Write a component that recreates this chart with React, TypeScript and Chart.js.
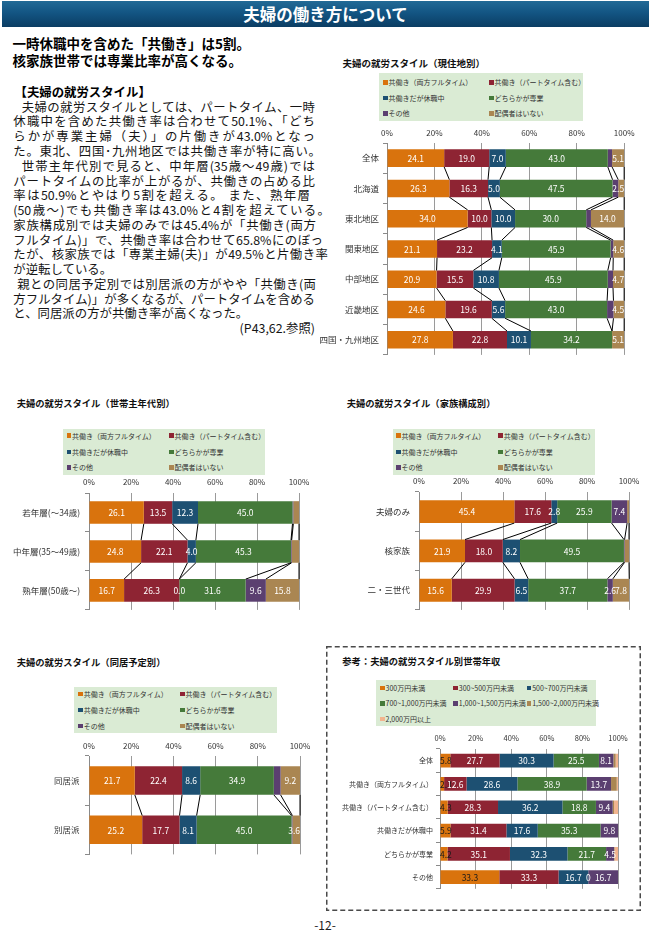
import React, { useEffect, useRef } from 'react';
import { Chart, registerables } from 'chart.js';

Chart.register(...registerables);

const FONT = "'Noto Sans CJK JP', 'Noto Sans', sans-serif";
Chart.defaults.font.family = FONT;

// ---------- shared series (work style) ----------
const workSeries = [
  '共働き（両方フルタイム）',
  '共働き（パートタイム含む）',
  '共働きだが休職中',
  'どちらかが専業',
  'その他',
  '配偶者はいない',
];
const workColors = ['#D9730D', '#8E2433', '#1D5072', '#457A3A', '#5B3F70', '#AA8652'];

// ---------- chart 1: 現住地別 ----------
const regionCategories = ['全体', '北海道', '東北地区', '関東地区', '中部地区', '近畿地区', '四国・九州地区'];
const regionFullTime = [24.1, 26.3, 34.0, 21.1, 20.9, 24.6, 27.8];
const regionPartTime = [19.0, 16.3, 10.0, 23.2, 15.5, 19.6, 22.8];
const regionLeave = [7.0, 5.0, 10.0, 4.1, 10.8, 5.6, 10.1];
const regionSingle = [43.0, 47.5, 30.0, 45.9, 45.9, 43.0, 34.2];
const regionOther = [1.8, 2.4, 2.0, 1.1, 2.2, 2.7, 0.0];
const regionNoSpouse = [5.1, 2.5, 14.0, 4.6, 4.7, 4.5, 5.1];
const regionHidden: [number, number][] = [[4, 0], [4, 1], [4, 2], [4, 3], [4, 4], [4, 5], [4, 6]];

// ---------- chart 2: 世帯主年代別 ----------
const ageCategories = ['若年層(～34歳)', '中年層(35～49歳)', '熟年層(50歳～)'];
const ageFullTime = [26.1, 24.8, 16.7];
const agePartTime = [13.5, 22.1, 26.3];
const ageLeave = [12.3, 4.0, 0.0];
const ageSingle = [45.0, 45.3, 31.6];
const ageOther = [0.4, 0.3, 9.6];
const ageNoSpouse = [2.7, 3.5, 15.8];
const ageHidden: [number, number][] = [[4, 0], [4, 1], [5, 0], [5, 1]];

// ---------- chart 3: 家族構成別 ----------
const familyCategories = ['夫婦のみ', '核家族', '二・三世代'];
const familyFullTime = [45.4, 21.9, 15.6];
const familyPartTime = [17.6, 18.0, 29.9];
const familyLeave = [2.8, 8.2, 6.5];
const familySingle = [25.9, 49.5, 37.7];
const familyOther = [7.4, 0.3, 2.6];
const familyNoSpouse = [0.9, 2.1, 7.8];
const familyHidden: [number, number][] = [[4, 1], [5, 0], [5, 1]];

// ---------- chart 4: 同居予定別 ----------
const cohabCategories = ['同居派', '別居派'];
const cohabFullTime = [21.7, 25.2];
const cohabPartTime = [22.4, 17.7];
const cohabLeave = [8.6, 8.1];
const cohabSingle = [34.9, 45.0];
const cohabOther = [3.2, 0.4];
const cohabNoSpouse = [9.2, 3.6];
const cohabHidden: [number, number][] = [[4, 0], [4, 1]];

// ---------- chart 5: 世帯年収 ----------
const incomeCategories = [
  '全体',
  '共働き（両方フルタイム）',
  '共働き（パートタイム含む）',
  '共働きだが休職中',
  'どちらかが専業',
  'その他',
];
const incomeSeries = [
  '300万円未満',
  '300~500万円未満',
  '500~700万円未満',
  '700~1,000万円未満',
  '1,000~1,500万円未満',
  '1,500~2,000万円未満',
  '2,000万円以上',
];
const incomeColors = ['#D9730D', '#8E2433', '#1D5072', '#457A3A', '#5B3F70', '#AA8652', '#F2B48E'];
const incomeUnder300 = [5.8, 2.3, 4.3, 5.9, 4.2, 33.3];
const income300to500 = [27.7, 12.6, 28.3, 31.4, 35.1, 33.3];
const income500to700 = [30.3, 28.6, 36.2, 17.6, 32.3, 16.7];
const income700to1000 = [25.5, 38.9, 18.8, 35.3, 21.7, 0];
const income1000to1500 = [8.1, 13.7, 9.4, 9.8, 4.5, 16.7];
const income1500to2000 = [1.3, 3.2, 0.8, 0, 0.3, 0];
const incomeOver2000 = [1.3, 0.7, 2.2, 0, 1.9, 0];
const incomeHidden: [number, number][] = [
  [5, 0], [5, 1], [5, 2], [5, 3], [5, 4], [5, 5],
  [6, 0], [6, 1], [6, 2], [6, 3], [6, 4], [6, 5],
];

const xTickValues = [0, 20, 40, 60, 80, 100];

// ---------- text ----------
const headingLines = ['一時休職中を含めた「共働き」は5割。', '核家族世帯では専業比率が高くなる。'];
const subHeading = '【夫婦の就労スタイル】';
const bodyLines = [
  '夫婦の就労スタイルとしては、パートタイム、一時',
  '休職中を含めた共働き率は合わせて50.1%、「どち',
  'らかが専業主婦（夫）」の片働きが43.0%となっ',
  'た。東北、四国･九州地区では共働き率が特に高い。',
  '世帯主年代別で見ると、中年層(35歳～49歳)では',
  'パートタイムの比率が上がるが、共働きの占める比',
  '率は50.9%とやはり5割を超える。 また、熟年層',
  '(50歳～)でも共働き率は43.0%と4割を超えている。',
  '家族構成別では夫婦のみでは45.4%が「共働き(両方',
  'フルタイム)」で、共働き率は合わせて65.8%にのぼっ',
  'たが、核家族では「専業主婦(夫)」が49.5%と片働き率',
  'が逆転している。',
  '親との同居予定別では別居派の方がやや「共働き(両',
  '方フルタイム)」が多くなるが、パートタイムを含める',
  'と、同居派の方が共働き率が高くなった。',
];
const referenceNote = '(P43,62.参照)';
// layout of body lines: left edge, right edge (null = no justification)
const bodyLayout: [number, number | null][] = [
  [21.7, 315], [13.3, 315], [13.3, 315], [13.3, 321], [21.7, 315], [13.3, 315], [13.3, 310],
  [13.3, 330], [13.3, 316], [13.3, 323], [13.3, 328], [13.3, null], [17.3, 316], [13.3, 315],
  [13.3, null],
];

type SBProps = {
  categories: string[];
  series: string[];
  values: number[][];
  colors: string[];
  left: number;
  top: number;
  width: number;
  height: number;
  yAxisWidth: number;
  xAxisHeight: number;
  padRight: number;
  padBottom: number;
  xTickPad: number;
  yTickPad: number;
  yFontSize: number;
  xFontSize: number;
  labelFontSize: number;
  hidden: [number, number][];
  seriesLines: boolean;
  darkLabelSeries: number[];
  format: (v: number) => string;
  barPct: number;
};

function StackedBar(p: SBProps) {
  const ref = useRef<HTMLCanvasElement>(null);
  useEffect(() => {
    const canvas = ref.current;
    if (!canvas) return;
    const hiddenSet = new Set(p.hidden.map(([s, r]) => `${s}-${r}`));
    const linesPlugin = {
      id: 'seriesLines',
      afterDatasetsDraw(chart: any) {
        if (!p.seriesLines) return;
        const { ctx } = chart;
        ctx.save();
        ctx.strokeStyle = '#000000';
        ctx.lineWidth = 1;
        chart.data.datasets.forEach((_ds: any, di: number) => {
          const els = chart.getDatasetMeta(di).data;
          for (let i = 0; i < els.length - 1; i++) {
            const a = els[i].getProps(['x', 'y', 'height'], true);
            const b = els[i + 1].getProps(['x', 'y', 'height'], true);
            ctx.beginPath();
            ctx.moveTo(a.x, a.y + a.height / 2);
            ctx.lineTo(b.x, b.y - b.height / 2);
            ctx.stroke();
          }
        });
        ctx.restore();
      },
    };
    const labelPlugin = {
      id: 'segLabels',
      afterDatasetsDraw(chart: any) {
        const { ctx, chartArea } = chart;
        ctx.save();
        ctx.font = `${p.labelFontSize}px ${FONT}`;
        ctx.textAlign = 'center';
        ctx.textBaseline = 'middle';
        chart.data.datasets.forEach((ds: any, di: number) => {
          const meta = chart.getDatasetMeta(di);
          meta.data.forEach((el: any, i: number) => {
            if (hiddenSet.has(`${di}-${i}`)) return;
            const v = ds.data[i];
            const txt = p.format(v);
            const { x, y, base } = el.getProps(['x', 'y', 'base'], true);
            const w = ctx.measureText(txt).width;
            let cx = (x + base) / 2;
            cx = Math.max(chartArea.left + w / 2, Math.min(chartArea.right - w / 2, cx));
            ctx.fillStyle = p.darkLabelSeries.includes(di) ? '#1a1a1a' : '#ffffff';
            ctx.fillText(txt, cx, y + 0.5);
          });
        });
        ctx.restore();
      },
    };
    const chart = new Chart(canvas, {
      type: 'bar',
      data: {
        labels: p.categories,
        datasets: p.series.map((name, i) => ({
          label: name,
          data: p.values[i],
          backgroundColor: p.colors[i],
          borderWidth: 0,
          barPercentage: p.barPct,
          categoryPercentage: 1,
        })),
      },
      options: {
        indexAxis: 'y',
        responsive: false,
        maintainAspectRatio: false,
        animation: false,
        devicePixelRatio: 1,
        layout: { padding: { left: 0, top: 0, right: p.padRight, bottom: p.padBottom } },
        plugins: { legend: { display: false }, tooltip: { enabled: false }, title: { display: false } },
        scales: {
          x: {
            stacked: true,
            position: 'top',
            min: 0,
            max: 100,
            afterBuildTicks: (scale: any) => {
              scale.ticks = xTickValues.map((v) => ({ value: v }));
            },
            ticks: {
              callback: (v: any) => `${v}%`,
              padding: p.xTickPad,
              font: { size: p.xFontSize, family: FONT },
              color: '#333333',
              maxRotation: 0,
              autoSkip: false,
            },
            grid: { color: '#9a9a9a', drawTicks: false, lineWidth: 1 },
            border: { display: false },
            afterFit: (scale: any) => {
              scale.height = p.xAxisHeight;
            },
          },
          y: {
            stacked: true,
            ticks: {
              padding: p.yTickPad,
              font: { size: p.yFontSize, family: FONT },
              color: '#333333',
              autoSkip: false,
            },
            grid: { drawOnChartArea: false, drawTicks: true, tickLength: 4, color: '#8a8a8a' },
            border: { display: true, color: '#8a8a8a', width: 1 },
            afterFit: (scale: any) => {
              scale.width = p.yAxisWidth;
            },
          },
        },
      } as any,
      plugins: [linesPlugin, labelPlugin],
    });
    return () => chart.destroy();
  }, []);
  return (
    <canvas
      ref={ref}
      width={p.width}
      height={p.height}
      style={{ position: 'absolute', left: p.left, top: p.top, width: p.width, height: p.height, display: 'block' }}
    />
  );
}

type LegendProps = {
  names: string[];
  colors: string[];
  left: number;
  top: number;
  width: number;
  height: number;
  cols: number[];
  rows: number[];
  fontSize: number;
};

function Legend(p: LegendProps) {
  const n = p.cols.length;
  return (
    <>
      <div
        style={{
          position: 'absolute',
          left: p.left,
          top: p.top,
          width: p.width,
          height: p.height,
          background: '#DAEBD4',
        }}
      />
      {p.names.map((name, k) => {
        const cx = p.cols[k % n];
        const cy = p.rows[Math.floor(k / n)];
        return (
          <React.Fragment key={k}>
            <div
              style={{
                position: 'absolute',
                left: cx,
                top: cy - 2.2,
                width: 4.5,
                height: 4.5,
                background: p.colors[k],
              }}
            />
            <div
              style={{
                position: 'absolute',
                left: cx + 5.5,
                top: cy - 6,
                height: 12,
                lineHeight: '12px',
                fontSize: p.fontSize,
                color: '#333',
                whiteSpace: 'nowrap',
              }}
            >
              {name}
            </div>
          </React.Fragment>
        );
      })}
    </>
  );
}

function Title({ text, left, cy, size }: { text: string; left: number; cy: number; size: number }) {
  return (
    <div
      style={{
        position: 'absolute',
        left,
        top: cy - 8,
        height: 16,
        lineHeight: '16px',
        fontSize: size,
        fontWeight: 'bold',
        color: '#111',
        whiteSpace: 'nowrap',
      }}
    >
      {text}
    </div>
  );
}

const fmt1 = (v: number) => v.toFixed(1);
const fmtGeneral = (v: number) => String(v);

export default function App() {
  const bodySize = 12.4;
  const bodyLH = 14.77;
  return (
    <div
      style={{
        position: 'absolute',
        left: 0,
        top: 0,
        width: 651,
        height: 937,
        background: '#ffffff',
        fontFamily: FONT,
        overflow: 'hidden',
      }}
    >
      {/* banner */}
      <div
        style={{
          position: 'absolute',
          left: 2,
          top: 1,
          width: 647,
          height: 26,
          background: 'linear-gradient(to bottom, #226a96 0%, #135583 45%, #0b3d63 100%)',
          color: '#ffffff',
          fontWeight: 'bold',
          fontSize: 16.5,
          lineHeight: '26px',
          textAlign: 'center',
        }}
      >
        夫婦の働き方について
      </div>

      {/* headings */}
      {headingLines.map((t, i) => (
        <div
          key={i}
          style={{
            position: 'absolute',
            left: 12.5,
            top: 43.5 + i * 16.7 - 9.5,
            height: 19,
            lineHeight: '19px',
            fontSize: 13.5,
            fontWeight: 'bold',
            color: '#000',
            whiteSpace: 'nowrap',
          }}
        >
          {t}
        </div>
      ))}
      <div
        style={{
          position: 'absolute',
          left: 14.5,
          top: 92.3 - 9,
          height: 18,
          lineHeight: '18px',
          fontSize: 12.4,
          fontWeight: 'bold',
          color: '#000',
          whiteSpace: 'nowrap',
        }}
      >
        {subHeading}
      </div>
      {bodyLines.map((t, i) => {
        const [l, r] = bodyLayout[i];
        const cy = 106.7 + i * bodyLH;
        return (
          <div
            key={i}
            style={{
              position: 'absolute',
              left: l,
              top: cy - 9,
              width: r === null ? undefined : r - l,
              height: 18,
              lineHeight: '18px',
              fontSize: bodySize,
              color: '#151515',
              whiteSpace: 'nowrap',
              textAlign: r === null ? 'left' : 'justify',
              textAlignLast: r === null ? 'left' : 'justify',
            } as any}
          >
            {t}
          </div>
        );
      })}
      <div
        style={{
          position: 'absolute',
          left: 200,
          width: 115,
          top: 106.7 + 15 * bodyLH - 9,
          height: 18,
          lineHeight: '18px',
          fontSize: bodySize,
          color: '#151515',
          textAlign: 'right',
          whiteSpace: 'nowrap',
        }}
      >
        {referenceNote}
      </div>

      {/* chart 1 */}
      <Title text="夫婦の就労スタイル（現住地別）" left={342.5} cy={62.7} size={9.5} />
      <Legend
        names={workSeries}
        colors={workColors}
        left={379}
        top={72.7}
        width={204}
        height={48}
        cols={[383, 489]}
        rows={[82.3, 97.7, 113.3]}
        fontSize={7}
      />
      <StackedBar
        categories={regionCategories}
        series={workSeries}
        values={[regionFullTime, regionPartTime, regionLeave, regionSingle, regionOther, regionNoSpouse]}
        colors={workColors}
        left={300}
        top={122}
        width={340}
        height={242}
        yAxisWidth={87}
        xAxisHeight={21}
        padRight={13}
        padBottom={4}
        xTickPad={5.5}
        yTickPad={4}
        yFontSize={8.5}
        xFontSize={8}
        labelFontSize={8.5}
        hidden={regionHidden}
        seriesLines={true}
        darkLabelSeries={[]}
        format={fmt1}
        barPct={0.58}
      />

      {/* chart 2 */}
      <Title text="夫婦の就労スタイル（世帯主年代別）" left={16.7} cy={403.3} size={9.3} />
      <Legend
        names={workSeries}
        colors={workColors}
        left={63}
        top={429}
        width={202}
        height={46}
        cols={[66.5, 169]}
        rows={[435.5, 451.7, 467.3]}
        fontSize={7}
      />
      <StackedBar
        categories={ageCategories}
        series={workSeries}
        values={[ageFullTime, agePartTime, ageLeave, ageSingle, ageOther, ageNoSpouse]}
        colors={workColors}
        left={0}
        top={470}
        width={320}
        height={150}
        yAxisWidth={89}
        xAxisHeight={23}
        padRight={21}
        padBottom={7}
        xTickPad={6.5}
        yTickPad={5}
        yFontSize={8.5}
        xFontSize={8}
        labelFontSize={8.5}
        hidden={ageHidden}
        seriesLines={true}
        darkLabelSeries={[]}
        format={fmt1}
        barPct={0.58}
      />

      {/* chart 3 */}
      <Title text="夫婦の就労スタイル（家族構成別）" left={346.7} cy={403} size={9.3} />
      <Legend
        names={workSeries}
        colors={workColors}
        left={392.7}
        top={429}
        width={202}
        height={46}
        cols={[396, 498.3]}
        rows={[435.5, 451.7, 467.3]}
        fontSize={7}
      />
      <StackedBar
        categories={familyCategories}
        series={workSeries}
        values={[familyFullTime, familyPartTime, familyLeave, familySingle, familyOther, familyNoSpouse]}
        colors={workColors}
        left={330}
        top={470}
        width={321}
        height={150}
        yAxisWidth={89}
        xAxisHeight={22}
        padRight={22}
        padBottom={8}
        xTickPad={6.5}
        yTickPad={5}
        yFontSize={8.5}
        xFontSize={8}
        labelFontSize={8.5}
        hidden={familyHidden}
        seriesLines={true}
        darkLabelSeries={[]}
        format={fmt1}
        barPct={0.58}
      />

      {/* chart 4 */}
      <Title text="夫婦の就労スタイル（同居予定別）" left={16.7} cy={661.7} size={9.3} />
      <Legend
        names={workSeries}
        colors={workColors}
        left={74}
        top={687.3}
        width={203}
        height={45.4}
        cols={[78.3, 180]}
        rows={[694, 710, 726]}
        fontSize={7}
      />
      <StackedBar
        categories={cohabCategories}
        series={workSeries}
        values={[cohabFullTime, cohabPartTime, cohabLeave, cohabSingle, cohabOther, cohabNoSpouse]}
        colors={workColors}
        left={0}
        top={735}
        width={320}
        height={130}
        yAxisWidth={89}
        xAxisHeight={21}
        padRight={20}
        padBottom={8}
        xTickPad={5.5}
        yTickPad={5.5}
        yFontSize={8.5}
        xFontSize={8}
        labelFontSize={8.5}
        hidden={cohabHidden}
        seriesLines={true}
        darkLabelSeries={[]}
        format={fmt1}
        barPct={0.58}
      />

      {/* chart 5 (dashed box) */}
      <svg
        width={316}
        height={266}
        style={{ position: 'absolute', left: 326, top: 646 }}
      >
        <rect
          x={0.75}
          y={0.75}
          width={313.5}
          height={263.5}
          fill="none"
          stroke="#4a4a4a"
          strokeWidth={1.5}
          strokeDasharray="5 3"
        />
      </svg>
      <Title text="参考：夫婦の就労スタイル別世帯年収" left={342.3} cy={661} size={9.3} />
      <Legend
        names={incomeSeries}
        colors={incomeColors}
        left={375.7}
        top={680}
        width={220}
        height={45.7}
        cols={[380, 453.3, 526.7]}
        rows={[687.7, 703.3, 719]}
        fontSize={7}
      />
      <StackedBar
        categories={incomeCategories}
        series={incomeSeries}
        values={[
          incomeUnder300,
          income300to500,
          income500to700,
          income700to1000,
          income1000to1500,
          income1500to2000,
          incomeOver2000,
        ]}
        colors={incomeColors}
        left={327}
        top={728}
        width={313}
        height={168}
        yAxisWidth={113}
        xAxisHeight={21}
        padRight={22}
        padBottom={5}
        xTickPad={6}
        yTickPad={3}
        yFontSize={7}
        xFontSize={7.5}
        labelFontSize={8.5}
        hidden={incomeHidden}
        seriesLines={false}
        darkLabelSeries={[0]}
        format={fmtGeneral}
        barPct={0.59}
      />

      {/* page number */}
      <div
        style={{
          position: 'absolute',
          left: 275,
          width: 100,
          top: 925 - 9,
          height: 18,
          lineHeight: '18px',
          fontSize: 12,
          color: '#222',
          textAlign: 'center',
        }}
      >
        -12-
      </div>
    </div>
  );
}
